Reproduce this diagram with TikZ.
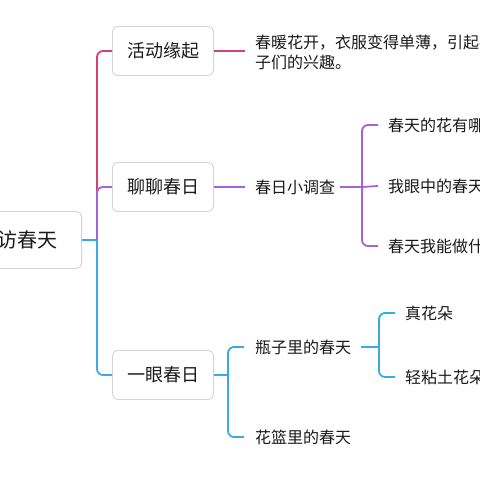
\documentclass[tikz,border=0pt]{standalone}
\usepackage{fontspec}
\setmainfont{Noto Sans CJK SC}
\definecolor{cred}{HTML}{D6426F}
\definecolor{cpur}{HTML}{A760E0}
\definecolor{cblu}{HTML}{38ACE2}
\definecolor{ctxt}{HTML}{1A1A1A}
\definecolor{cbox}{HTML}{D4D4D4}
\begin{document}
\begin{tikzpicture}[x=1pt,y=-1pt,
  box/.style={draw=cbox,line width=0.9pt,rounded corners=5pt,fill=white,text=ctxt,
    minimum width=101pt,minimum height=49pt,inner sep=0pt,font=\fontsize{18}{20}\selectfont},
  rootbox/.style={draw=cbox,line width=0.9pt,rounded corners=5pt,fill=white,text=ctxt,
    minimum height=57pt,inner ysep=0pt,inner xsep=24pt,font=\fontsize{20}{22}\selectfont},
  leaf/.style={text=ctxt,inner sep=0pt,anchor=west,font=\fontsize{16}{20}\selectfont,align=left},
  conn/.style={line width=1.8pt,rounded corners=6pt}]
\useasboundingbox (0,0) rectangle (480,480);
\fill[white] (0,0) rectangle (480,480);
% root
\node[rootbox,anchor=east] (root) at (82,240) {访春天};
% level 1
\node[box] (b1) at (163,51) {活动缘起};
\node[box] (b2) at (163,187) {聊聊春日};
\node[box] (b3) at (163,375) {一眼春日};
% leaves
\node[leaf,anchor=north west] (t1) at (255,35) {春暖花开，衣服变得单薄，引起孩\\子们的兴趣。};
\node[leaf] (t2) at (255,187) {春日小调查};
\node[leaf] (t21) at (388,125) {春天的花有哪};
\node[leaf] (t22) at (388,186) {我眼中的春天};
\node[leaf] (t23) at (388,246) {春天我能做什};
\node[leaf] (t3) at (255,347) {瓶子里的春天};
\node[leaf] (t4) at (255,437) {花篮里的春天};
\node[leaf] (t31) at (405,313) {真花朵};
\node[leaf] (t32) at (405,377) {轻粘土花朵};
% coordinates
\coordinate (j0) at (97,240);
\coordinate (e1) at (245,51);
\coordinate (e2) at (245,187);
\coordinate (j2) at (362,187);
\coordinate (j3) at (228,375);
\coordinate (j31) at (379,345);
% trunk
\draw[conn,cred] (j0) |- (b1.west);
\draw[conn,cpur] (j0) |- (b2.west);
\draw[conn,cblu] (j0) |- (b3.west);
\draw[conn,cblu] (root.east) -- (j0);
% branch 1
\draw[conn,cred] (b1.east) -- (e1);
% branch 2
\draw[conn,cpur] (b2.east) -- (e2);
\draw[conn,cpur] (t2.east) ++(5,0) -- (j2);
\draw[conn,cpur] (j2) |- ([xshift=-10pt]t21.west);
\draw[conn,cpur] (j2) -- ([xshift=-10pt]t22.west);
\draw[conn,cpur] (j2) |- ([xshift=-10pt]t23.west);
% branch 3
\draw[conn,cblu] (b3.east) -- (j3);
\draw[conn,cblu] (j3) |- ([xshift=-11pt]t3.west);
\draw[conn,cblu] (j3) |- ([xshift=-11pt]t4.west);
\draw[conn,cblu] ([xshift=10pt]t3.east) -- (j31 |- t3.east) coordinate (j3b);
\draw[conn,cblu] (j3b) |- ([xshift=-10pt]t31.west);
\draw[conn,cblu] (j3b) |- ([xshift=-10pt]t32.west);
\end{tikzpicture}
\end{document}
